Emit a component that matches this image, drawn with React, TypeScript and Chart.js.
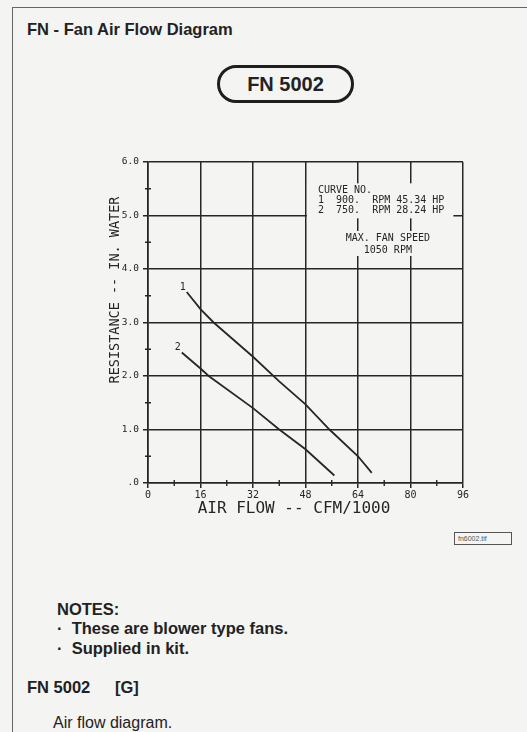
import { useEffect, useRef } from "react";
import { Chart, registerables } from "chart.js";

Chart.register(...registerables);

// Axis ticks
const airFlowTicks = [0, 16, 32, 48, 64, 80, 96];
const airFlowMinorTicks = [8, 24, 40, 56, 72, 88];
const resistanceTicks = [0, 1, 2, 3, 4, 5, 6];
const resistanceTickLabels = [".0", "1.0", "2.0", "3.0", "4.0", "5.0", "6.0"];
const resistanceMinorTicks = [0.5, 1.5, 2.5, 3.5, 4.5, 5.5];

// Fan curves: air flow (CFM/1000) vs resistance (in. water)
const curveNumbers = ["1", "2"];
const curve1Flow = [11.8, 16, 20, 32, 40, 48, 55.3, 64, 68.2];
const curve1Resistance = [3.57, 3.25, 3.0, 2.36, 1.9, 1.47, 1.0, 0.5, 0.19];
const curve2Flow = [10.3, 16, 18.5, 32, 40, 48, 56.8];
const curve2Resistance = [2.44, 2.14, 2.0, 1.4, 1.0, 0.63, 0.14];

// Notes printed inside the plot
const curveTableLines = ["CURVE NO.", "1  900.  RPM 45.34 HP", "2  750.  RPM 28.24 HP"];
const maxSpeedLines = ["MAX. FAN SPEED", "1050 RPM"];

const xTitle = "AIR FLOW -- CFM/1000";
const yTitle = "RESISTANCE -- IN. WATER";

const PAGE_BG = "#f4f4f2";
const INK = "#262626";
const MONO = '"DejaVu Sans Mono", monospace';
const SANS = '"Liberation Sans", Arial, sans-serif';

const plotDecorations = {
  id: "plotDecorations",
  beforeDatasetsDraw(chart: any) {
    const { ctx, chartArea } = chart;
    const x = chart.scales.x;
    const y = chart.scales.y;
    ctx.save();
    ctx.strokeStyle = INK;
    ctx.lineWidth = 1.4;
    // minor ticks straddling the axes
    ctx.beginPath();
    for (const v of airFlowMinorTicks) {
      const px = x.getPixelForValue(v);
      ctx.moveTo(px, chartArea.bottom - 3);
      ctx.lineTo(px, chartArea.bottom + 3);
    }
    for (const v of resistanceMinorTicks) {
      const py = y.getPixelForValue(v);
      ctx.moveTo(chartArea.left - 3, py);
      ctx.lineTo(chartArea.left + 3, py);
    }
    ctx.stroke();

    ctx.font = `10px ${MONO}`;
    ctx.textBaseline = "middle";

    // curve table, grid knocked out behind it
    const tx = x.getPixelForValue(51.8);
    const ty = y.getPixelForValue(5.47);
    const rowH = 10;
    const tw = Math.max(...curveTableLines.map((s) => ctx.measureText(s).width));
    ctx.fillStyle = PAGE_BG;
    ctx.fillRect(tx - 11, ty - 7, tw + 20, rowH * (curveTableLines.length - 1) + 15);
    ctx.fillStyle = INK;
    ctx.textAlign = "left";
    curveTableLines.forEach((s, i) => ctx.fillText(s, tx, ty + i * rowH));

    // max fan speed note
    const sx = x.getPixelForValue(73.1);
    const sy = y.getPixelForValue(4.58);
    const sRow = 12;
    const sw = Math.max(...maxSpeedLines.map((s) => ctx.measureText(s).width));
    ctx.fillStyle = PAGE_BG;
    ctx.fillRect(sx - sw / 2 - 9, sy - 7, sw + 18, sRow * (maxSpeedLines.length - 1) + 13);
    ctx.fillStyle = INK;
    ctx.textAlign = "center";
    maxSpeedLines.forEach((s, i) => ctx.fillText(s, sx, sy + i * sRow));
    ctx.restore();
  },
  afterDatasetsDraw(chart: any) {
    const { ctx } = chart;
    ctx.save();
    ctx.font = `10px ${MONO}`;
    ctx.fillStyle = INK;
    ctx.textAlign = "center";
    ctx.textBaseline = "middle";
    chart.data.datasets.forEach((ds: any, i: number) => {
      const first = chart.getDatasetMeta(i).data[0];
      if (first) ctx.fillText(ds.label, first.x - 4, first.y - 5);
    });
    ctx.restore();
  },
  afterDraw(chart: any) {
    const { ctx, chartArea } = chart;
    ctx.save();
    ctx.fillStyle = INK;
    ctx.textAlign = "center";
    ctx.textBaseline = "middle";
    ctx.font = `16px ${MONO}`;
    ctx.fillText(xTitle, chartArea.left + 146, chartArea.bottom + 26);
    ctx.translate(chartArea.left - 33, chartArea.top + 128);
    ctx.rotate(-Math.PI / 2);
    ctx.font = `13.5px ${MONO}`;
    ctx.fillText(yTitle, 0, 0);
    ctx.restore();
  },
};

function FanChart() {
  const ref = useRef<HTMLCanvasElement | null>(null);
  useEffect(() => {
    if (!ref.current) return;
    const toPoints = (xs: number[], ys: number[]) => xs.map((v, i) => ({ x: v, y: ys[i] }));
    const chart = new Chart(ref.current, {
      type: "line",
      data: {
        datasets: [
          {
            label: curveNumbers[0],
            data: toPoints(curve1Flow, curve1Resistance),
            borderColor: INK,
            borderWidth: 1.8,
            pointRadius: 0,
            tension: 0,
            fill: false,
          },
          {
            label: curveNumbers[1],
            data: toPoints(curve2Flow, curve2Resistance),
            borderColor: INK,
            borderWidth: 1.8,
            pointRadius: 0,
            tension: 0,
            fill: false,
          },
        ],
      },
      options: {
        responsive: false,
        animation: false,
        layout: { padding: { top: 12, right: 7, left: 0, bottom: 0 } },
        plugins: { legend: { display: false }, tooltip: { enabled: false } },
        scales: {
          x: {
            type: "linear",
            min: airFlowTicks[0],
            max: airFlowTicks[airFlowTicks.length - 1],
            afterBuildTicks: (s: any) => {
              s.ticks = airFlowTicks.map((v) => ({ value: v }));
            },
            afterFit: (s: any) => {
              s.height = 47;
            },
            ticks: {
              autoSkip: false,
              maxRotation: 0,
              padding: 1,
              color: INK,
              font: { family: MONO, size: 10 },
              callback: (v: any) => String(v),
            },
            grid: { color: INK, lineWidth: 1.5, tickLength: 5, tickColor: INK },
            border: { color: INK, width: 1.6 },
          },
          y: {
            type: "linear",
            min: resistanceTicks[0],
            max: resistanceTicks[resistanceTicks.length - 1],
            afterBuildTicks: (s: any) => {
              s.ticks = resistanceTicks.map((v) => ({ value: v }));
            },
            afterFit: (s: any) => {
              s.width = 58;
            },
            ticks: {
              autoSkip: false,
              padding: 4,
              color: INK,
              font: { family: MONO, size: 9.5 },
              callback: (v: any) => resistanceTickLabels[resistanceTicks.indexOf(Number(v))] ?? "",
            },
            grid: { color: INK, lineWidth: 1.5, tickLength: 5, tickColor: INK },
            border: { color: INK, width: 1.6 },
          },
        },
      },
      plugins: [plotDecorations],
    } as any);
    return () => chart.destroy();
  }, []);
  return (
    <canvas
      ref={ref}
      width={380}
      height={380}
      style={{ position: "absolute", left: 90, top: 150, width: 380, height: 380 }}
    />
  );
}

const abs = (left: number, top: number, extra: React.CSSProperties = {}): React.CSSProperties => ({
  position: "absolute",
  left,
  top,
  lineHeight: 1,
  whiteSpace: "pre",
  fontFamily: SANS,
  color: "#222",
  ...extra,
});

export default function App() {
  return (
    <div
      style={{
        position: "absolute",
        left: 0,
        top: 0,
        width: 527,
        height: 732,
        overflow: "hidden",
        background: PAGE_BG,
      }}
    >
      {/* page frame */}
      <div
        style={{
          position: "absolute",
          left: 12,
          top: 7,
          width: 530,
          height: 740,
          borderTop: "1.5px solid #666",
          borderLeft: "1.5px solid #666",
        }}
      />
      <div style={abs(27, 21, { fontSize: 16.5, fontWeight: 700 })}>FN - Fan Air Flow Diagram</div>

      {/* model badge */}
      <div
        style={{
          position: "absolute",
          left: 217,
          top: 65,
          width: 137,
          height: 38,
          boxSizing: "border-box",
          border: "3px solid #1e1e1e",
          borderRadius: 19,
          display: "flex",
          alignItems: "center",
          justifyContent: "center",
          fontFamily: SANS,
          fontWeight: 700,
          fontSize: 20,
          color: "#222",
        }}
      >
        FN 5002
      </div>

      <FanChart />

      {/* image tag */}
      <div
        style={{
          position: "absolute",
          left: 454,
          top: 532,
          width: 58,
          height: 13,
          boxSizing: "border-box",
          border: "1px solid #555",
          fontFamily: SANS,
          fontSize: 7,
          lineHeight: "11px",
          paddingLeft: 3,
          color: "#555",
        }}
      >
        fn6002.tif
      </div>

      <div style={abs(57, 601, { fontSize: 16.5, fontWeight: 700 })}>NOTES:</div>
      <div style={abs(57, 620, { fontSize: 16.5, fontWeight: 700 })}>{"·  These are blower type fans."}</div>
      <div style={abs(57, 640, { fontSize: 16.5, fontWeight: 700 })}>{"·  Supplied in kit."}</div>
      <div style={abs(27, 679, { fontSize: 16.5, fontWeight: 700 })}>FN 5002</div>
      <div style={abs(115, 679, { fontSize: 16.5, fontWeight: 700 })}>[G]</div>
      <div style={abs(53, 714.5, { fontSize: 16 })}>Air flow diagram.</div>
    </div>
  );
}
